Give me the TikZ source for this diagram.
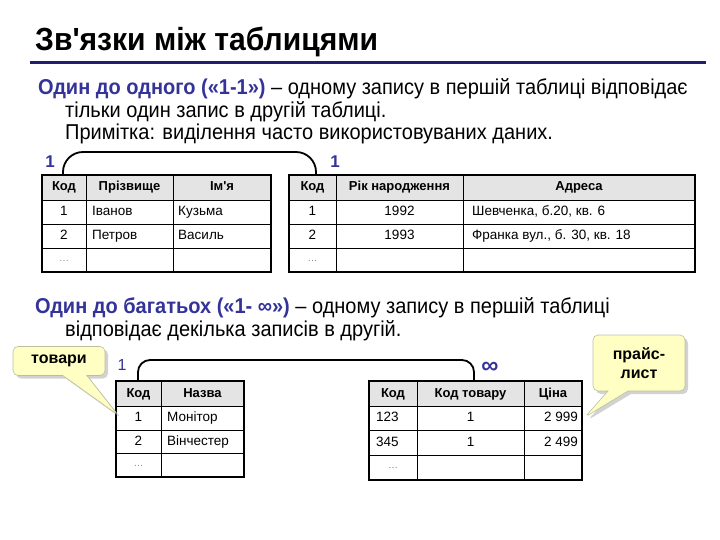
\documentclass[tikz,border=0pt]{standalone}
\usepackage{fontspec}
\setmainfont{Liberation Sans}[Ligatures=TeXOff]
\newfontfamily\nfont[FakeStretch=0.93,Ligatures=TeXOff]{Liberation Sans}
\newfontfamily\tfont[FakeStretch=0.94,Ligatures=TeXOff]{Liberation Sans}
\usetikzlibrary{shapes.callouts,shadows}
\definecolor{navy}{HTML}{333399}
\definecolor{rulec}{HTML}{1F1F6E}
\definecolor{hdr}{HTML}{E4E4E4}
\definecolor{note}{HTML}{FFFFC4}
\definecolor{noteline}{HTML}{BDBDA0}
\tikzset{
  outer/.style={line width=1.7pt},
  inner/.style={line width=0.8pt},
  conn/.style={line width=1.8pt, rounded corners=#1},
  hd/.style={inner sep=0, text height=10pt, text depth=3pt, font=\fontsize{13}{15}\selectfont\bfseries},
  cell/.style={inner sep=0, text height=10pt, text depth=3pt, font=\fontsize{13.5}{15}\selectfont},
  dots/.style={inner sep=0, text=gray, font=\fontsize{10}{12}\selectfont},
  line/.style={anchor=base west, inner sep=0, font=\nfont\fontsize{21.5}{24}\selectfont},
  lbl/.style={inner sep=0, text=navy, font=\fontsize{17}{19}\selectfont\bfseries},
  note/.style={rectangle callout, rounded corners=5pt, fill=note, draw=noteline, line width=0.6pt,
    drop shadow={shadow xshift=3pt, shadow yshift=-3pt, fill=black!35},
    font=\fontsize{16}{19}\selectfont\bfseries, align=center, inner sep=2pt}
}
\begin{document}
\begin{tikzpicture}[x=1pt,y=-1pt]
\useasboundingbox (0,0) rectangle (720,540);
% title
\node[anchor=base west, inner sep=0, font=\tfont\fontsize{32}{34}\selectfont\bfseries] (title) at (35,51) {Зв'язки між таблицями};
\draw[rulec, line width=3pt] (30,63) -- (706,63);
% section 1
\node[line] (s1a) at (38,95) {\textcolor{navy}{\bfseries Один до одного («1-1»)} – одному запису в першій таблиці відповідає};
\node[line] (s1b) at (65,118) {тільки один запис в другій таблиці.};
\node[line] (s1c) at (65,140) {Примітка: виділення часто використовуваних даних.};
% table 1
\fill[hdr] (42,175) rectangle (271,200);
\draw[inner] (42,200) -- (271,200) (42,224) -- (271,224) (42,248) -- (271,248)
  (86,175) -- (86,272) (173,175) -- (173,272);
\draw[outer] (42,175) rectangle (271,272);
\node[hd] (t1h1) at (64,187.5) {Код};
\node[hd] (t1h2) at (129.5,187.5) {Прізвище};
\node[hd] (t1h3) at (222,187.5) {Ім'я};
\node[cell] (t1a1) at (64,212) {1};
\node[cell, anchor=west] (t1a2) at (92,212) {Іванов};
\node[cell, anchor=west] (t1a3) at (178,212) {Кузьма};
\node[cell] (t1b1) at (64,236) {2};
\node[cell, anchor=west] (t1b2) at (92,236) {Петров};
\node[cell, anchor=west] (t1b3) at (178,236) {Василь};
\node[dots] (t1c1) at (64,261) {…};
% table 2
\fill[hdr] (289,175) rectangle (695,200);
\draw[inner] (289,200) -- (695,200) (289,224) -- (695,224) (289,248) -- (695,248)
  (336,175) -- (336,272) (463,175) -- (463,272);
\draw[outer] (289,175) rectangle (695,272);
\node[hd] (t2h1) at (312.5,187.5) {Код};
\node[hd] (t2h2) at (399.5,187.5) {Рік народження};
\node[hd] (t2h3) at (579,187.5) {Адреса};
\node[cell] (t2a1) at (312.5,212) {1};
\node[cell] (t2a2) at (399.5,212) {1992};
\node[cell, anchor=west] (t2a3) at (472,212) {Шевченка, б.20, кв. 6};
\node[cell] (t2b1) at (312.5,236) {2};
\node[cell] (t2b2) at (399.5,236) {1993};
\node[cell, anchor=west] (t2b3) at (472,236) {Франка вул., б. 30, кв. 18};
\node[dots] (t2c1) at (312.5,261) {…};
% connector 1
\coordinate (c1a) at (63,175);
\coordinate (c1b) at (316,175);
\draw[conn=20pt] (c1a) -- ++(0,-23) -| (c1b);
\node[lbl] (one1) at (50,162) {1};
\node[lbl] (one2) at (335,162) {1};
% section 2
\node[line] (s2a) at (35,313) {\textcolor{navy}{\bfseries Один до багатьох («1- ∞»)} – одному запису в першій таблиці};
\node[line] (s2b) at (65,336) {відповідає декілька записів в другій.};
% table 3
\fill[hdr] (116,381) rectangle (244,406);
\draw[inner] (116,406) -- (244,406) (116,430) -- (244,430) (116,453) -- (244,453)
  (161,381) -- (161,477);
\draw[outer] (116,381) rectangle (244,477);
\node[hd] (t3h1) at (138.5,393.5) {Код};
\node[hd] (t3h2) at (202.5,393.5) {Назва};
\node[cell] (t3a1) at (138.5,418) {1};
\node[cell, anchor=west] (t3a2) at (167,418) {Монітор};
\node[cell] (t3b1) at (138.5,441.5) {2};
\node[cell, anchor=west] (t3b2) at (167,441.5) {Вінчестер};
\node[dots] (t3c1) at (138.5,466) {…};
% table 4
\fill[hdr] (369,381) rectangle (582,406);
\draw[inner] (369,406) -- (582,406) (369,430) -- (582,430) (369,455) -- (582,455)
  (417,381) -- (417,480) (524,381) -- (524,480);
\draw[outer] (369,381) rectangle (582,480);
\node[hd] (t4h1) at (393,393.5) {Код};
\node[hd] (t4h2) at (470.5,393.5) {Код товару};
\node[hd] (t4h3) at (553,393.5) {Ціна};
\node[cell, anchor=west] (t4a1) at (376,418) {123};
\node[cell] (t4a2) at (470.5,418) {1};
\node[cell, anchor=east] (t4a3) at (578,418) {2 999};
\node[cell, anchor=west] (t4b1) at (376,442.5) {345};
\node[cell] (t4b2) at (470.5,442.5) {1};
\node[cell, anchor=east] (t4b3) at (578,442.5) {2 499};
\node[dots] (t4c1) at (393,468) {…};
% connector 2
\coordinate (c2a) at (138,381);
\coordinate (c2b) at (474,381);
\draw[conn=12pt] (c2a) -- ++(0,-21) -| (c2b);
\node[inner sep=0, text=navy, font=\fontsize{16}{18}\selectfont] (one3) at (122,365) {1};
\node[inner sep=0, text=navy, font=\fontsize{24}{26}\selectfont\bfseries] (inf) at (490,368) {∞};
% callouts
\coordinate (p1) at (118,415);
\coordinate (p2) at (585,417);
\node[note, minimum width=92pt, minimum height=29pt, callout absolute pointer={(p1)}, callout pointer width=24pt] (tovary) at (59,361) {товари};
\node[note, minimum width=92pt, minimum height=56pt, callout absolute pointer={(p2)}, callout pointer width=20pt] (price) at (639,363) {прайс-\\лист};
\end{tikzpicture}
\end{document}
